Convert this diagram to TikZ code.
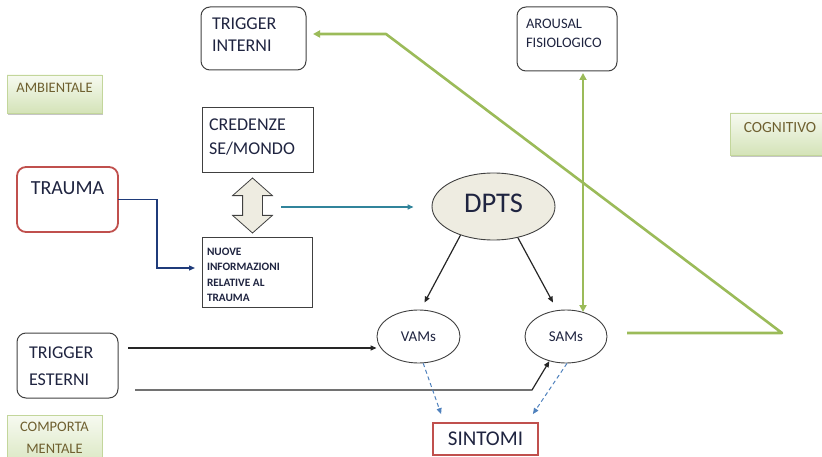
\documentclass[tikz,border=0pt]{standalone}
\usepackage{fontspec}
\setmainfont{Carlito}
\usetikzlibrary{shapes.geometric,shapes.arrows,arrows.meta,shadows}

\definecolor{boxline}{HTML}{404040}
\definecolor{txt}{HTML}{1F2440}
\definecolor{redline}{HTML}{C0504D}
\definecolor{grn}{HTML}{9BBB59}
\definecolor{grnedge}{HTML}{C3D69B}
\definecolor{grntop}{HTML}{F7FAF1}
\definecolor{grnbot}{HTML}{D4E3B8}
\definecolor{labtxt}{HTML}{6F6030}
\definecolor{navy}{HTML}{1F3B7A}
\definecolor{tealc}{HTML}{31849B}
\definecolor{dashblue}{HTML}{4F81BD}
\definecolor{beige}{HTML}{EEECE1}

% lines of text stacked, baseline on the first line
\newcommand{\stack}[2][l]{\begin{tabular}[t]{@{}#1@{}}#2\end{tabular}}

\tikzset{
  gtip/.tip={Triangle[length=7pt,width=7pt]},
  stip/.tip={Triangle[length=6pt,width=5pt]}
}

\begin{document}
\begin{tikzpicture}[x=1pt,y=-1pt,
  card/.style={draw=boxline, line width=1pt, rounded corners=9pt, anchor=north west,
    inner sep=0pt, outer sep=0pt, text=txt},
  plainbox/.style={draw=boxline, line width=1pt, anchor=north west,
    inner sep=0pt, outer sep=0pt, text=txt},
  tag/.style={draw=grnedge, line width=0.8pt, top color=grntop, bottom color=grnbot,
    anchor=north west, inner sep=0pt, outer sep=0pt, text=labtxt,
    drop shadow={shadow xshift=0.6pt, shadow yshift=-1.8pt, fill=black!45, opacity=0.5}},
  oval/.style={ellipse, draw=boxline, line width=0.9pt, inner sep=0pt, text=txt},
  link/.style={draw=black!85, line width=1.2pt, -stip},
  hint/.style={draw=dashblue, line width=1pt, dash pattern=on 4pt off 3pt, -stip},
  feedback/.style={draw=grn, line width=2.6pt, line join=round}
]
\useasboundingbox (0,0) rectangle (822,457);

% green category tags
\node[tag, font=\fontsize{14.5}{17}\selectfont, text height=18pt, text depth=20pt]
  (amb) at (7,75) {\makebox[95pt]{AMBIENTALE}};
\node[tag, font=\fontsize{15.5}{18}\selectfont, text height=20pt, text depth=22pt]
  (cogn) at (730,113) {\makebox[100pt]{COGNITIVO}};
\node[tag, font=\fontsize{14.5}{21.7}\selectfont, text height=16.7pt, text depth=43pt]
  (comp) at (7,415) {\makebox[95pt]{\stack[c]{COMPORTA\\MENTALE}}};

% boxes
\node[card, font=\fontsize{18}{22}\selectfont, text height=23pt, text depth=40pt, inner xsep=11pt]
  (tint) at (201,7) {\makebox[83pt][l]{\stack{TRIGGER\\INTERNI}}};
\node[card, font=\fontsize{14.5}{19}\selectfont, text height=21.3pt, text depth=42.7pt, inner xsep=9pt]
  (arous) at (517,7) {\makebox[82pt][l]{\stack{AROUSAL\\FISIOLOGICO}}};
\node[plainbox, font=\fontsize{18}{23.3}\selectfont, text height=23pt, text depth=42pt, inner xsep=7pt]
  (cred) at (202,108) {\makebox[97pt][l]{\stack{CREDENZE\\SE/MONDO}}};
\node[plainbox, font=\bfseries\fontsize{11.3}{15.5}\selectfont, text height=17pt, text depth=52pt, inner xsep=5pt]
  (nuove) at (202,238) {\makebox[100pt][l]{\stack{NUOVE\\INFORMAZIONI\\RELATIVE AL\\TRAUMA}}};
\node[card, font=\fontsize{18}{27}\selectfont, text height=25pt, text depth=40pt, inner xsep=12pt]
  (test) at (17,333) {\makebox[77pt][l]{\stack{TRIGGER\\ESTERNI}}};
\node[card, draw=redline, line width=1.8pt, font=\fontsize{20}{24}\selectfont, text height=28pt, text depth=37pt]
  (trauma) at (17,167) {\makebox[101pt]{TRAUMA}};
\node[draw=redline, line width=1.8pt, minimum width=105pt, minimum height=32pt, inner sep=0pt,
  font=\fontsize{21}{25}\selectfont, text=txt] (sint) at (485.5,439) {SINTOMI};

% ellipses
\node[oval, fill=beige, minimum width=123pt, minimum height=67pt,
  font=\fontsize{28.5}{32}\selectfont, text depth=6.4pt] (dpts) at (493.5,206.5) {DPTS};
\node[oval, minimum width=83pt, minimum height=53pt, font=\fontsize{15}{18}\selectfont]
  (vams) at (418.5,336.5) {VAMs};
\node[oval, minimum width=82pt, minimum height=53pt, font=\fontsize{15}{18}\selectfont]
  (sams) at (566,336.5) {SAMs};

% two-way block arrow between beliefs and new information
\node[double arrow, draw=boxline, fill=beige, line width=0.8pt, rotate=90,
  minimum height=55pt, double arrow head extend=10pt,
  double arrow tip angle=97, inner xsep=0pt, inner ysep=9.5pt] (dbl) at (252.5,205.5) {};

% connectors
\coordinate (bcorner) at (157,268);
\draw[navy, line width=1.2pt, -stip, shorten >=7pt]
  (trauma.east) -| (bcorner) -- (bcorner -| nuove.west);
\draw[tealc, line width=1.5pt, -stip, shorten <=28.5pt, shorten >=18pt]
  ([yshift=-1.5pt]dbl.center) -- ([yshift=-1.5pt]dbl.center -| dpts.west);

\draw[link] (dpts.221) -- ([shift={(6pt,7pt)}]vams.north);
\draw[link] (dpts.308) -- ([shift={(-13pt,7pt)}]sams.north);
\draw[link] ([shift={(10pt,17.5pt)}]test.east) coordinate (t1) -- (t1 -| vams.west);
\coordinate (sbend) at (532,390);
\draw[link] ([shift={(17pt,-24.5pt)}]test.east) -- (sbend) -- (sams.236);

\draw[hint] (vams.280) -- ([shift={(9pt,8pt)}]sint.north west);
\draw[hint] (sams.272) -- ([shift={(-6pt,8pt)}]sint.north east);

\coordinate (gstart) at (627,333);
\coordinate (gapex) at (782,333);
\coordinate (gbend) at (386,34);
\draw[feedback, -gtip, shorten >=7pt] (gstart) -- (gapex) -- (gbend) -- (gbend -| tint.east);
\draw[feedback, gtip-gtip, shorten <=2pt]
  ([xshift=16pt]arous.south) -- ([shift={(17pt,-2.5pt)}]sams.north);
\end{tikzpicture}
\end{document}
